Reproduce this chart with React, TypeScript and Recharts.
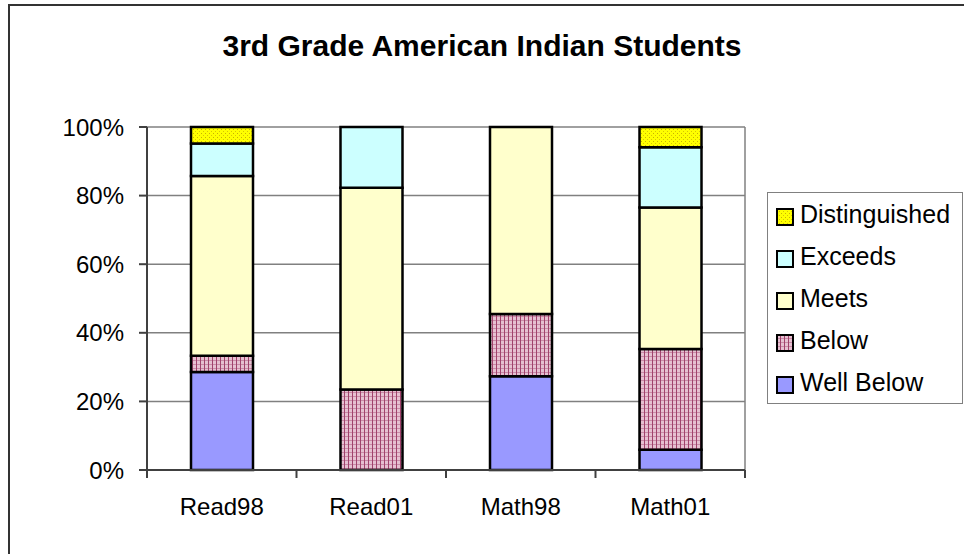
import React from 'react';
import { BarChart, Bar, XAxis, YAxis, CartesianGrid, Legend } from 'recharts';

// Share of students at each performance level (percent of the tested group)
const categories = ['Read98', 'Read01', 'Math98', 'Math01'];
const wellBelow = [28.6, 0, 27.3, 5.9];
const below = [4.7, 23.5, 18.2, 29.4];
const meets = [52.4, 58.8, 54.5, 41.2];
const exceeds = [9.5, 17.7, 0, 17.6];
const distinguished = [4.8, 0, 0, 5.9];
const yTicks = [0, 20, 40, 60, 80, 100];
const chartTitle = '3rd Grade American Indian Students';

const FONT = '"Liberation Sans", Arial, sans-serif';

const series = [
  { key: 'wellBelow', name: 'Well Below', values: wellBelow, fill: '#9999FF' },
  { key: 'below', name: 'Below', values: below, fill: 'url(#belowGrid)' },
  { key: 'meets', name: 'Meets', values: meets, fill: '#FFFFCC' },
  { key: 'exceeds', name: 'Exceeds', values: exceeds, fill: '#CCFFFF' },
  { key: 'distinguished', name: 'Distinguished', values: distinguished, fill: 'url(#distDots)' },
];

const data = categories.map((cat, i) => {
  const row: Record<string, string | number> = { cat };
  series.forEach((s) => {
    row[s.key] = s.values[i];
  });
  return row;
});

// Fill patterns shared by the bars and the legend swatches
const PatternDefs = () => (
  <svg width={0} height={0} style={{ position: 'absolute' }}>
    <defs>
      <pattern id="belowGrid" width={4} height={4} patternUnits="userSpaceOnUse">
        <rect width={4} height={4} fill="#E6C0D1" />
        <rect x={0} y={0} width={4} height={1} fill="#C98AA6" />
        <rect x={0} y={0} width={1} height={4} fill="#A0426C" />
      </pattern>
      <pattern id="distDots" width={4} height={4} patternUnits="userSpaceOnUse">
        <rect width={4} height={4} fill="#FFFF00" />
        <rect x={1} y={1} width={1} height={1} fill="#C8B400" />
        <rect x={3} y={3} width={1} height={1} fill="#D8C800" />
      </pattern>
    </defs>
  </svg>
);

const XTick = (props: any) => {
  const { x, y, payload, index, visibleTicksCount, width } = props;
  const half = payload?.offset || width / visibleTicksCount / 2;
  const last = index === visibleTicksCount - 1;
  return (
    <g>
      <line x1={x - half} x2={x - half} y1={y} y2={y + 8} stroke="#404040" strokeWidth={2} />
      {last && <line x1={x + half} x2={x + half} y1={y} y2={y + 8} stroke="#404040" strokeWidth={2} />}
      <text x={x} y={y + 28} dy="0.71em" textAnchor="middle" fontFamily={FONT} fontSize={24} fill="#000">
        {payload.value}
      </text>
    </g>
  );
};

const LegendBox = () => (
  <div
    style={{
      boxSizing: 'border-box',
      width: 196,
      height: 212,
      border: '1.5px solid #808080',
      background: '#fff',
      fontFamily: FONT,
      fontSize: 25,
      color: '#000',
    }}
  >
    {[...series].reverse().map((s) => (
      <div key={s.key} style={{ height: 42, display: 'flex', alignItems: 'center', paddingLeft: 8 }}>
        <svg width={18} height={18} style={{ marginTop: 6, marginRight: 6, flex: 'none' }}>
          <rect x={1} y={1} width={16} height={16} fill={s.fill} stroke="#000" strokeWidth={2} />
        </svg>
        <span style={{ lineHeight: '42px', whiteSpace: 'nowrap' }}>{s.name}</span>
      </div>
    ))}
  </div>
);

export default function App() {
  return (
    <div style={{ position: 'absolute', left: 0, top: 0, width: 964, height: 554, overflow: 'hidden', background: '#fff' }}>
      <PatternDefs />
      <div
        style={{
          position: 'absolute',
          left: 8,
          top: 4,
          width: 1000,
          height: 600,
          border: '2px solid #333',
          boxSizing: 'border-box',
        }}
      />
      <div
        style={{
          position: 'absolute',
          left: 0,
          top: 28,
          width: 964,
          textAlign: 'center',
          fontFamily: FONT,
          fontWeight: 'bold',
          fontSize: 30,
          lineHeight: '35px',
          color: '#000',
        }}
      >
        {chartTitle}
      </div>
      <div style={{ position: 'absolute', left: 0, top: 0 }}>
        <BarChart width={964} height={554} data={data} margin={{ top: 127, right: 219, bottom: 0, left: 0 }}>
          <CartesianGrid
            stroke="#808080"
            strokeWidth={1.5}
            horizontal
            vertical
            verticalCoordinatesGenerator={({ offset }: any) => [offset.left + offset.width]}
          />
          <XAxis
            dataKey="cat"
            height={84}
            tickLine={false}
            tickSize={0}
            tickMargin={0}
            axisLine={{ stroke: '#404040', strokeWidth: 2 }}
            tick={<XTick />}
            interval={0}
          />
          <YAxis
            width={147}
            domain={[0, 100]}
            ticks={yTicks}
            tickFormatter={(v: number) => `${v}%`}
            tickSize={8}
            tickMargin={15}
            axisLine={{ stroke: '#404040', strokeWidth: 2 }}
            tickLine={{ stroke: '#404040', strokeWidth: 2 }}
            tick={{ fontFamily: FONT, fontSize: 24, fill: '#000' }}
          />
          {series.map((s) => (
            <Bar
              key={s.key}
              dataKey={s.key}
              name={s.name}
              stackId="levels"
              fill={s.fill}
              stroke="#000"
              strokeWidth={2.5}
              barSize={62}
              isAnimationActive={false}
            />
          ))}
          <Legend
            layout="vertical"
            align="center"
            verticalAlign="middle"
            wrapperStyle={{ left: 767, top: 192, width: 196, height: 212 }}
            content={<LegendBox />}
          />
        </BarChart>
      </div>
    </div>
  );
}
